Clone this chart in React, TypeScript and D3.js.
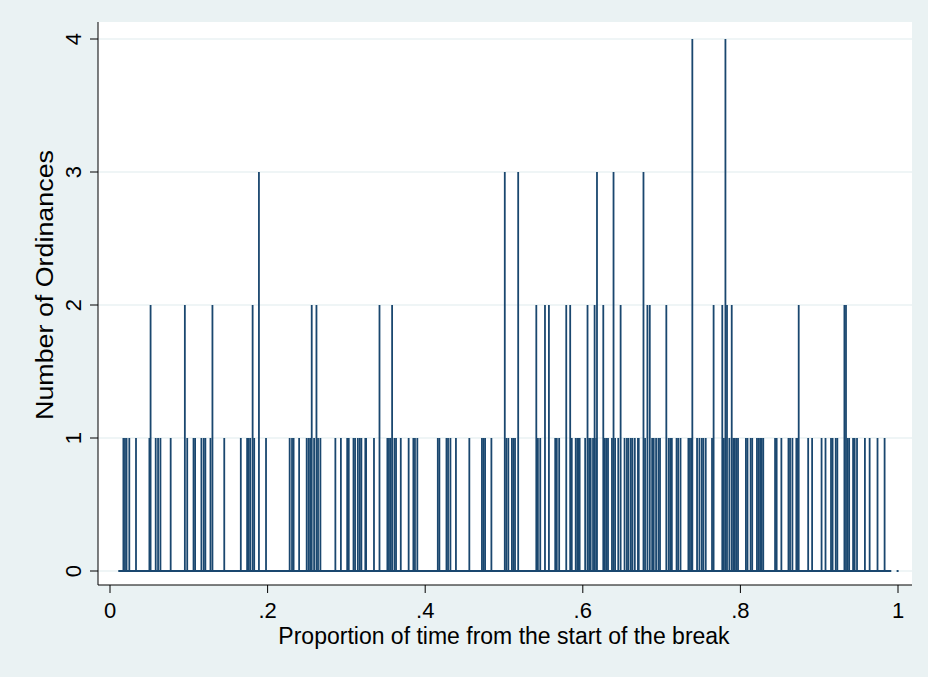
import React from "react";
import * as d3 from "d3";

// Proportion of time (x) at which ordinances were recorded, and counts
const propTime: number[] = [
  0.017, 0.019, 0.021, 0.0245, 0.033, 0.05, 0.0515, 0.058, 0.061, 0.064, 0.077, 0.095, 0.098, 0.106, 0.108,
  0.116, 0.119, 0.121, 0.1275, 0.13, 0.145, 0.166, 0.174, 0.176, 0.178, 0.181, 0.183, 0.189, 0.198,
  0.228, 0.231, 0.233, 0.24, 0.2496, 0.252, 0.254, 0.256, 0.259, 0.262, 0.264, 0.267, 0.286, 0.293,
  0.301, 0.303, 0.309, 0.311, 0.3145, 0.317, 0.319, 0.324, 0.325, 0.335, 0.342, 0.352, 0.354, 0.356,
  0.358, 0.361, 0.363, 0.369, 0.379, 0.385, 0.387, 0.39, 0.416, 0.418, 0.427, 0.429, 0.432, 0.439,
  0.456, 0.472, 0.474, 0.476, 0.484, 0.501, 0.503, 0.5055, 0.51, 0.512, 0.514, 0.518, 0.541, 0.543,
  0.546, 0.552, 0.557, 0.565, 0.567, 0.57, 0.579, 0.584, 0.586, 0.591, 0.593, 0.595, 0.596, 0.603,
  0.606, 0.608, 0.61, 0.613, 0.615, 0.617, 0.618, 0.626, 0.628, 0.63, 0.632, 0.637, 0.639, 0.641,
  0.645, 0.648, 0.653, 0.656, 0.658, 0.661, 0.663, 0.666, 0.67, 0.671, 0.677, 0.679, 0.682, 0.685,
  0.688, 0.69, 0.693, 0.696, 0.698, 0.706, 0.709, 0.711, 0.713, 0.719, 0.721, 0.724, 0.734, 0.736,
  0.738, 0.739, 0.745, 0.748, 0.751, 0.753, 0.756, 0.764, 0.766, 0.777, 0.779, 0.781, 0.783, 0.786,
  0.789, 0.791, 0.793, 0.795, 0.797, 0.807, 0.809, 0.813, 0.815, 0.821, 0.823, 0.825, 0.827, 0.829,
  0.844, 0.846, 0.852, 0.861, 0.863, 0.866, 0.871, 0.873, 0.874, 0.886, 0.891, 0.903, 0.908, 0.915,
  0.917, 0.921, 0.923, 0.932, 0.934, 0.936, 0.938, 0.943, 0.945, 0.948, 0.958, 0.964, 0.974, 0.983,
];
const ordinances: number[] = [
  1, 1, 1, 1, 1, 1, 2, 1, 1, 1, 1, 2, 1, 1, 1,
  1, 1, 1, 1, 2, 1, 1, 1, 1, 1, 2, 1, 3, 1,
  1, 1, 1, 1, 1, 1, 1, 2, 1, 2, 1, 1, 1, 1,
  1, 1, 1, 1, 1, 1, 1, 1, 1, 1, 2, 1, 1, 1,
  2, 1, 1, 1, 1, 1, 1, 1, 1, 1, 1, 1, 1, 1,
  1, 1, 1, 1, 1, 3, 1, 1, 1, 1, 1, 3, 2, 1,
  1, 2, 2, 1, 1, 1, 2, 2, 1, 1, 1, 1, 1, 1,
  2, 1, 1, 1, 2, 1, 3, 2, 1, 1, 1, 1, 3, 1,
  1, 2, 1, 1, 1, 1, 1, 1, 1, 1, 3, 1, 2, 2,
  1, 1, 1, 1, 1, 2, 1, 1, 1, 1, 1, 1, 1, 1,
  1, 4, 1, 1, 1, 1, 1, 1, 2, 2, 1, 4, 2, 1,
  2, 1, 1, 1, 1, 1, 1, 1, 1, 1, 1, 1, 1, 1,
  1, 1, 1, 1, 1, 1, 1, 1, 2, 1, 1, 1, 1, 1,
  1, 1, 1, 2, 2, 1, 1, 1, 1, 1, 1, 1, 1, 1,
];
// Extent of the zero line (observed range)
const baselineRange: [number, number] = [0.0105, 0.9915];
const lastPoint: number = 0.9995;

const xTicks: number[] = [0, 0.2, 0.4, 0.6, 0.8, 1];
const xTickLabels: string[] = ["0", ".2", ".4", ".6", ".8", "1"];
const yTicks: number[] = [0, 1, 2, 3, 4];
const yTickLabels: string[] = ["0", "1", "2", "3", "4"];
const xTitle = "Proportion of time from the start of the break";
const yTitle = "Number of Ordinances";

export default function App() {
  const W = 928, H = 677;
  const plot = { left: 98, right: 912, top: 22, bottom: 585 };
  const x = d3.scaleLinear().domain([0, 1]).range([110, 898]);
  const y = d3.scaleLinear().domain([0, 4]).range([571, 39]);
  const color = "#1a476f";
  const font = "'Liberation Sans', Arial, Helvetica, sans-serif";
  const fs = 22;
  const fsTitle = 23;
  const yMid = 285;

  return (
    <svg width={W} height={H} style={{ position: "absolute", left: 0, top: 0, display: "block" }}>
      <rect x={0} y={0} width={W} height={H} fill="#eaf2f3" />
      <rect x={plot.left} y={plot.top} width={plot.right - plot.left} height={plot.bottom - plot.top} fill="#ffffff" />
      {yTicks.map((t) => (
        <line key={"g" + t} x1={plot.left} x2={plot.right} y1={y(t)} y2={y(t)} stroke="#eaf2f3" strokeWidth={1.5} />
      ))}
      {/* zero line */}
      <line x1={x(baselineRange[0])} x2={x(baselineRange[1])} y1={y(0)} y2={y(0)} stroke={color} strokeWidth={2} />
      <line x1={x(lastPoint) - 1} x2={x(lastPoint) + 1} y1={y(0)} y2={y(0)} stroke={color} strokeWidth={2} />
      {propTime.map((p, i) => (
        <line key={"s" + i} x1={x(p)} x2={x(p)} y1={y(0)} y2={y(ordinances[i])} stroke={color} strokeWidth={1.8} />
      ))}
      {/* axes */}
      <line x1={plot.left} x2={plot.left} y1={plot.top} y2={plot.bottom} stroke="#000" strokeWidth={1} />
      <line x1={plot.left} x2={plot.right} y1={plot.bottom} y2={plot.bottom} stroke="#000" strokeWidth={1} />
      {yTicks.map((t, i) => (
        <g key={"yt" + t}>
          <line x1={plot.left - 8} x2={plot.left} y1={y(t)} y2={y(t)} stroke="#000" strokeWidth={1} />
          <text
            x={81}
            y={y(t)}
            transform={`rotate(-90, 81, ${y(t)})`}
            textAnchor="middle"
            fontFamily={font}
            fontSize={fs}
            fill="#000"
          >
            {yTickLabels[i]}
          </text>
        </g>
      ))}
      {xTicks.map((t, i) => (
        <g key={"xt" + t}>
          <line x1={x(t)} x2={x(t)} y1={plot.bottom} y2={plot.bottom + 8} stroke="#000" strokeWidth={1} />
          <text x={x(t)} y={618} textAnchor="middle" fontFamily={font} fontSize={fs} fill="#000">
            {xTickLabels[i]}
          </text>
        </g>
      ))}
      <text x={(x(0) + x(1)) / 2} y={644} textAnchor="middle" fontFamily={font} fontSize={fsTitle} fill="#000">
        {xTitle}
      </text>
      <text
        x={53}
        y={yMid}
        transform={`rotate(-90, 53, ${yMid})`}
        textAnchor="middle"
        fontFamily={font}
        fontSize={fsTitle}
        textLength={270}
        lengthAdjust="spacingAndGlyphs"
        fill="#000"
      >
        {yTitle}
      </text>
    </svg>
  );
}
